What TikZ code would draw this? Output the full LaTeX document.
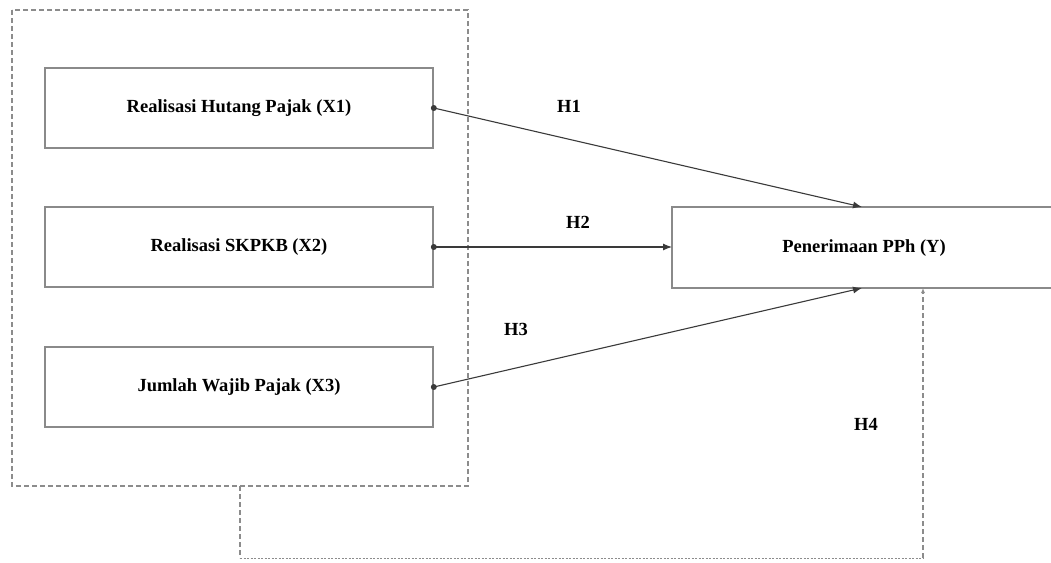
\documentclass[tikz,border=0pt]{standalone}
\usepackage{fontspec}
\setmainfont{Liberation Serif}
\usetikzlibrary{arrows.meta}
\definecolor{boxgray}{HTML}{8A8A8A}
\definecolor{dashgray}{HTML}{8C8C8C}
\definecolor{arrowgray}{HTML}{3A3A3A}
\begin{document}
\begin{tikzpicture}[x=1pt,y=-1pt,
  lab/.style={font=\bfseries\fontsize{18.5}{22}\selectfont},
  varbox/.style={lab,draw=boxgray,line width=1.6pt,fill=white,minimum width=388pt,minimum height=80pt,inner sep=0pt},
  ybox/.style={draw=boxgray,line width=1.6pt,fill=white},
  dashline/.style={draw=dashgray,line width=1.3pt,dash pattern=on 5pt off 3pt},
  conn/.style={draw=arrowgray,line width=1.1pt,-{Latex[length=9pt,width=7pt]}},
  hlab/.style={lab,inner sep=0pt}]
\useasboundingbox (0,0) rectangle (1051,562);
% outer dashed group
\draw[dashline] (12,10) rectangle (468,486);
% H4 dashed feedback path
\coordinate (g) at (240,486);
\coordinate (gb) at (240,558);
\coordinate (yb) at (923,558);
% boxes
\node[varbox] (x1) at (239,108) {Realisasi Hutang Pajak (X1)};
\node[varbox] (x2) at (239,247) {Realisasi SKPKB (X2)};
\node[varbox] (x3) at (239,387) {Jumlah Wajib Pajak (X3)};
\path[ybox] (672,207) -- (1052,207) -- (1052,288) -- (672,288) -- cycle;
\node[hlab] (y) at (864,248) {Penerimaan PPh (Y)};
\coordinate (ytop) at (862,207);
\coordinate (ybot) at (862,288);
\coordinate (yleft) at (672,247);
\coordinate (yh4) at (923,288);
\draw[dashline] (g) -- (gb);
\draw[draw=dashgray,line width=1pt,dash pattern=on 2pt off 1.5pt] (gb) -- (yb);
\draw[dashline,-{Latex[length=5pt,width=4pt]}] (yb) -- (yh4);
% connectors
\fill[arrowgray] (x1.east) circle (3pt);
\fill[arrowgray] (x2.east) circle (3pt);
\fill[arrowgray] (x3.east) circle (3pt);
\draw[conn] (x1.east) -- (ytop);
\draw[conn] (x2.east) -- (yleft);
\draw[conn] (x3.east) -- (ybot);
% labels
\node[hlab] (h1) at (569,106) {H1};
\node[hlab] (h2) at (578,222) {H2};
\node[hlab] (h3) at (516,329) {H3};
\node[hlab] (h4) at (866,424) {H4};
\end{tikzpicture}
\end{document}
